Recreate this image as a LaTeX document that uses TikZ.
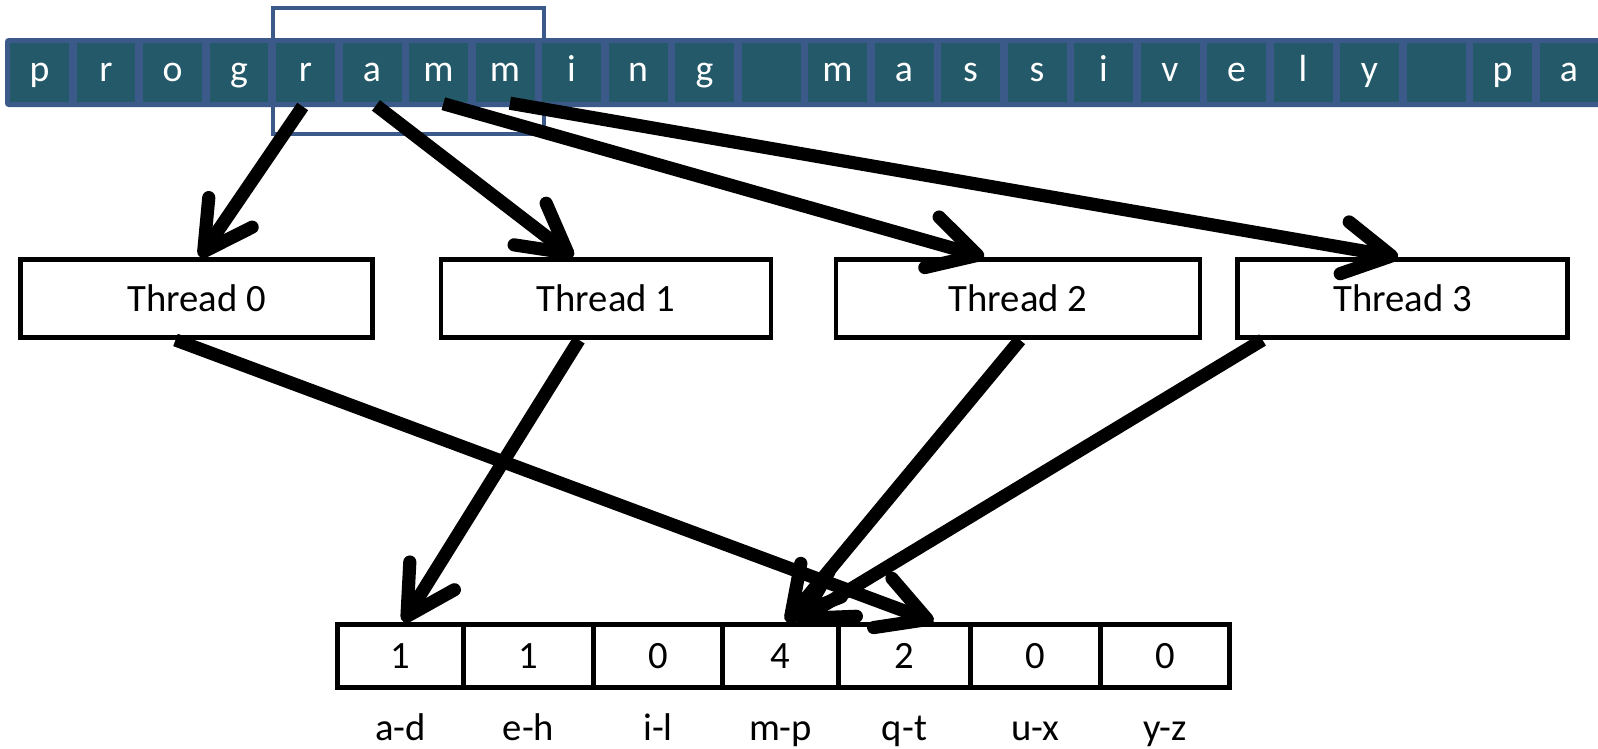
\documentclass[tikz,border=0pt]{standalone}
\usepackage{fontspec}
\setmainfont{Carlito}
\usetikzlibrary{arrows.meta,calc}
\definecolor{stripblue}{RGB}{59,90,138}
\definecolor{cellteal}{RGB}{35,89,104}
\def\window{(273,8) rectangle (544,134)}
\def\strip{(5,38) rectangle (1610,107)}
\tikzset{
  letter/.style={fill=cellteal,text=white,minimum width=1.18cm,minimum height=1.18cm,inner sep=0pt,
    text height=14pt,text depth=3.2pt,font=\fontsize{21.5}{24}\selectfont},
  thread/.style={draw,line width=2.8pt,fill=white,minimum height=1.56cm,inner sep=0pt,font=\fontsize{22}{26}\selectfont},
  bin/.style={draw,line width=2.8pt,minimum height=1.27cm,inner sep=0pt,font=\fontsize{22}{26}\selectfont},
  binlabel/.style={anchor=base,inner sep=0pt,font=\fontsize{22}{26}\selectfont},
  fat/.style={line width=7.5pt,-{Straight Barb[length=0.95cm,width=1.05cm,line width=7.5pt,round]}}
}

\begin{document}
\begin{tikzpicture}[x=0.02cm,y=-0.02cm]
\useasboundingbox (0,0) rectangle (1598,748);
    \draw[stripblue,line width=2.3pt] \window;
    \fill[stripblue,rounded corners=2pt] \strip;
  \foreach \ch [count=\i from 0] in {p,r,o,g,r,a,m,m,i,n,g,{},m,a,s,s,i,v,e,l,y,{},p,a}
    \node[letter] (c\i) at ({39.5+66.5*\i},72.5) {\ch};

  \foreach \txt/\x/\w [count=\i from 0] in {Thread 0/196.5/352, Thread 1/606/330, Thread 2/1018/364, Thread 3/1402.5/330}
    \node[thread,minimum width=\w*0.02cm] (t\i) at (\x,298.5) {\txt};

  \foreach \x/\w/\n/\lab [count=\i from 0] in {400.5/126/1/a-d, 528.5/130/1/e-h, 658/129/0/i-l, 780.5/116/4/m-p,
      904.5/132/2/q-t, 1035.5/130/0/u-x, 1165/129/0/y-z}{
    \node[bin,minimum width=\w*0.02cm] (h\i) at (\x,656) {\n};
    \node[binlabel] (l\i) at (\x,740) {\lab};
  }

    \draw[fat,shorten <=0.1cm] (c4.south) -- ($(t0.north)+(3.5,0)$);
    \draw[fat,shorten <=0.1cm] (c5.south) -- ($(t1.north)+(-33,0)$);
    \draw[fat,shorten <=0.1cm] (c6.south) -- ($(t2.north)+(-34,0)$);
    \draw[fat,shorten <=0.1cm] (c7.south) -- ($(t3.north)+(-4.5,0)$);
    \draw[fat] ($(t0.south)+(-21,0)$) -- ($(h4.north)+(29,0)$);
    \draw[fat] ($(t1.south)+(-27,0)$) -- ($(h0.north)+(3,0)$);
    \draw[fat] ($(t2.south)+(2,0)$) -- ($(h3.north)+(6,0)$);
    \draw[fat] ($(t3.south)+(-140,0)$) -- ($(h3.north)+(16,0)$);
\end{tikzpicture}
\end{document}
